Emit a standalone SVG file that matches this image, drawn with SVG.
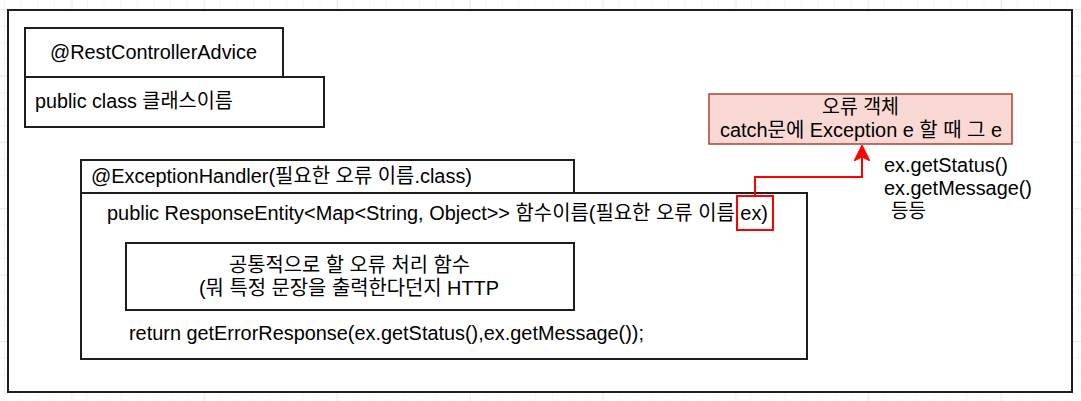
<svg xmlns="http://www.w3.org/2000/svg" width="1081" height="401" viewBox="0 0 1081 401">
  <style>
    .box { fill: #ffffff; stroke: #1e1e1e; stroke-width: 2; }
    .t { font-family: "Liberation Sans", "Noto Sans CJK KR", sans-serif; font-size: 20px; fill: #000000; }
    .conn { fill: none; stroke: #ff0000; stroke-width: 2; }
  </style>
  <defs>
    <pattern id="minor" patternUnits="userSpaceOnUse" x="4" y="9" width="16.6" height="16.6">
      <path d="M0,0 V16.6 M0,0 H16.6" fill="none" stroke="#ededed" stroke-width="1"/>
    </pattern>
    <pattern id="major" patternUnits="userSpaceOnUse" x="71.5" y="9" width="132.8" height="66.4">
      <path d="M0,0 V66.4 M0,0 H132.8" fill="none" stroke="#dcdcdc" stroke-width="1"/>
    </pattern>
    <marker id="arr" markerWidth="16" markerHeight="16" refX="15" refY="8" orient="auto" markerUnits="userSpaceOnUse">
      <path d="M0,0 L16,8 L0,16 L4,8 Z" fill="#ff0000" stroke="#ff0000" stroke-width="1"/>
    </marker>
  </defs>

  <rect x="0" y="0" width="1081" height="401" fill="#ffffff"/>
  <rect x="0" y="0" width="1081" height="401" fill="url(#minor)"/>
  <rect x="0" y="0" width="1081" height="401" fill="url(#major)"/>

  <g id="frame">
    <rect class="box" x="8" y="10" width="1064" height="382"/>
  </g>

  <g id="rest-controller-advice">
    <rect class="box" x="25" y="28" width="258" height="49"/>
    <text class="t" x="50" y="59" textLength="207" lengthAdjust="spacingAndGlyphs">@RestControllerAdvice</text>
  </g>

  <g id="class-box">
    <rect class="box" x="25" y="77" width="299" height="50"/>
    <text class="t" x="35" y="108" textLength="198" lengthAdjust="spacingAndGlyphs">public class 클래스이름</text>
  </g>

  <g id="exception-handler">
    <rect class="box" x="81" y="160" width="493" height="33"/>
    <text class="t" x="91" y="183" textLength="381" lengthAdjust="spacingAndGlyphs">@ExceptionHandler(필요한 오류 이름.class)</text>
  </g>

  <g id="method-box">
    <rect class="box" x="81" y="193" width="726" height="166"/>
    <text class="t" x="107" y="220" textLength="661" lengthAdjust="spacingAndGlyphs">public ResponseEntity&lt;Map&lt;String, Object&gt;&gt; 함수이름(필요한 오류 이름 ex)</text>
    <text class="t" x="129" y="340" textLength="515" lengthAdjust="spacingAndGlyphs">return getErrorResponse(ex.getStatus(),ex.getMessage());</text>
  </g>

  <g id="common-handler">
    <rect class="box" x="126" y="243" width="448" height="67"/>
    <text class="t" x="229" y="272" textLength="241" lengthAdjust="spacingAndGlyphs">공통적으로 할 오류 처리 함수</text>
    <text class="t" x="199" y="295" textLength="300" lengthAdjust="spacingAndGlyphs">(뭐 특정 문장을 출력한다던지 HTTP</text>
  </g>

  <g id="ex-highlight">
    <rect x="737" y="196" width="36" height="34" fill="none" stroke="#ff0000" stroke-width="2"/>
  </g>

  <g id="error-object">
    <rect x="709" y="94" width="303" height="50" fill="#fad9d5" stroke="#ae4132" stroke-width="1.5"/>
    <text class="t" x="822" y="114" textLength="77" lengthAdjust="spacingAndGlyphs">오류 객체</text>
    <text class="t" x="720" y="137" textLength="282" lengthAdjust="spacingAndGlyphs">catch문에 Exception e 할 때 그 e</text>
  </g>

  <g id="methods-note">
    <text class="t" x="884" y="172" textLength="124" lengthAdjust="spacingAndGlyphs">ex.getStatus()</text>
    <text class="t" x="884" y="195" textLength="148" lengthAdjust="spacingAndGlyphs">ex.getMessage()</text>
    <text class="t" x="891" y="218" textLength="35" lengthAdjust="spacingAndGlyphs">등등</text>
  </g>

  <g id="connectors">
    <path class="conn" d="M755,196 V177 H862 V146" marker-end="url(#arr)"/>
  </g>
</svg>
